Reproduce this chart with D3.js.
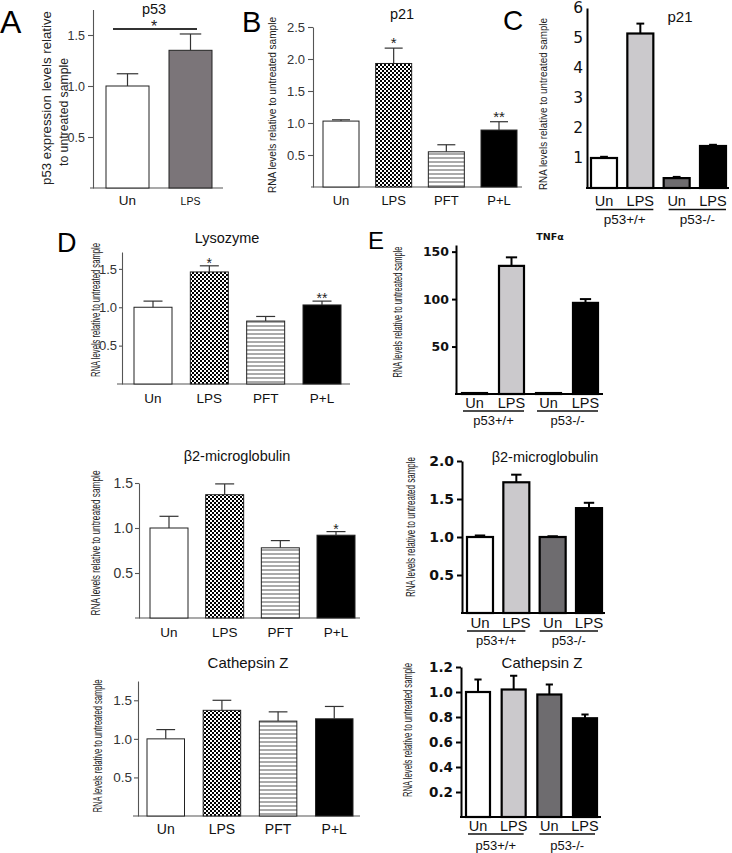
<!DOCTYPE html>
<html><head><meta charset="utf-8">
<script src="https://cdn.jsdelivr.net/npm/d3@7"></script>
<style>body{margin:0;background:#fff} svg{display:block}</style>
</head><body><svg id="c" width="732" height="853"></svg>
<script>
// ---------------- DATA ----------------
const treatCats = ["Un", "LPS", "PFT", "P+L"];
const p53Cats = ["Un", "LPS"];
const genoCats = ["Un", "LPS", "Un", "LPS"];
const genotypes = ["p53+/+", "p53-/-"];

const p53Values = [1.00, 1.35];
const p53Errors = [0.12, 0.16];
const p21TreatValues = [1.03, 1.93, 0.55, 0.89];
const p21TreatErrors = [0.02, 0.24, 0.11, 0.13];
const p21TreatSig = ["", "*", "", "**"];
const p21GenoValues = [1.00, 5.15, 0.33, 1.40];
const p21GenoErrors = [0.04, 0.33, 0.04, 0.04];
const lysoValues = [1.00, 1.46, 0.82, 1.03];
const lysoErrors = [0.08, 0.08, 0.06, 0.05];
const lysoSig = ["", "*", "", "**"];
const tnfValues = [1, 135, 1, 96];
const tnfErrors = [0, 9, 0, 4];
const b2TreatValues = [1.00, 1.37, 0.78, 0.92];
const b2TreatErrors = [0.13, 0.12, 0.08, 0.04];
const b2TreatSig = ["", "", "", "*"];
const b2GenoValues = [1.00, 1.72, 1.00, 1.38];
const b2GenoErrors = [0.02, 0.10, 0.01, 0.07];
const ctszTreatValues = [1.00, 1.37, 1.23, 1.26];
const ctszTreatErrors = [0.12, 0.13, 0.12, 0.16];
const ctszGenoValues = [1.00, 1.02, 0.98, 0.79];
const ctszGenoErrors = [0.10, 0.11, 0.08, 0.03];

const ticksA = [0.5, 1.0, 1.5];
const ticksB = [0.5, 1.0, 1.5, 2.0, 2.5];
const ticksC = [1, 2, 3, 4, 5, 6];
const ticksTNF = [50, 100, 150];
const ticksB2Geno = [0.5, 1.0, 1.5, 2.0];
const ticksCtszGeno = [0.2, 0.4, 0.6, 0.8, 1.0, 1.2];

const yLabelRNA = "RNA levels relative to untreated sample";

// ---------------- STYLE ----------------
const SANS = "'Liberation Sans', Arial, Helvetica, sans-serif";
const WIDE = "'DejaVu Sans', Verdana, sans-serif";
const treatFills = ["#ffffff", "url(#checker)", "url(#hlines)", "#000000"];
const p53Fills = ["#ffffff", "#7b7579"];
const genoFills = ["#ffffff", "#cbc9cc", "#6e6c6f", "#000000"];

const svg = d3.select("#c");
const defs = svg.append("defs");
const chk = defs.append("pattern").attr("id", "checker").attr("patternUnits", "userSpaceOnUse")
  .attr("width", 4).attr("height", 4);
chk.append("rect").attr("width", 4).attr("height", 4).attr("fill", "#fff");
chk.append("rect").attr("width", 2).attr("height", 2).attr("fill", "#000");
chk.append("rect").attr("x", 2).attr("y", 2).attr("width", 2).attr("height", 2).attr("fill", "#000");
const hl = defs.append("pattern").attr("id", "hlines").attr("patternUnits", "userSpaceOnUse")
  .attr("width", 4).attr("height", 4);
hl.append("rect").attr("width", 4).attr("height", 4).attr("fill", "#fff");
hl.append("rect").attr("y", 1.5).attr("width", 4).attr("height", 1).attr("fill", "#555");

function panel(c) {
  const g = svg.append("g");
  const n = c.values.length;
  const step = (c.barR - c.barL - c.barW) / (n - 1);
  const x = d3.scaleBand().domain(d3.range(n)).range([c.barL, c.barR])
    .paddingInner(1 - c.barW / step).paddingOuter(0);
  const y = d3.scaleLinear().domain([0, c.yMax]).range([c.y0, c.yTop]);

  // y axis
  const ax = g.append("g").attr("transform", `translate(${c.axisX},0)`)
    .call(d3.axisLeft(y).tickValues(c.ticks).tickFormat(d3.format(c.fmt))
      .tickSize(c.tickLen).tickSizeOuter(0).tickPadding(c.tickPad == null ? 3 : c.tickPad));
  ax.select(".domain").attr("stroke", c.axisColor).attr("stroke-width", c.axisW);
  ax.selectAll(".tick line").attr("stroke", c.axisColor).attr("stroke-width", c.axisW);
  ax.selectAll(".tick text").attr("font-family", c.tickFont).attr("font-size", c.tickSize)
    .attr("font-weight", c.tickWeight || "normal").attr("fill", c.tickColor);

  // x baseline
  g.append("line").attr("x1", c.xAxisL).attr("x2", c.xAxisR).attr("y1", c.y0).attr("y2", c.y0)
    .attr("stroke", c.axisColor).attr("stroke-width", c.axisW);

  // bars
  g.selectAll("rect.bar").data(c.values).join("rect").attr("class", "bar")
    .attr("x", (d, i) => x(i)).attr("width", x.bandwidth())
    .attr("y", d => y(d)).attr("height", d => c.y0 - y(d))
    .attr("fill", (d, i) => c.fills[i]).attr("stroke", c.barStroke).attr("stroke-width", c.barSW);

  // error bars
  const cap = x.bandwidth() * c.capFrac;
  c.values.forEach((v, i) => {
    const e = c.errors[i];
    if (!e) return;
    const cx = x(i) + x.bandwidth() / 2;
    g.append("line").attr("x1", cx).attr("x2", cx).attr("y1", y(v)).attr("y2", y(v + e))
      .attr("stroke", c.errColor).attr("stroke-width", c.errW);
    g.append("line").attr("x1", cx - cap / 2).attr("x2", cx + cap / 2).attr("y1", y(v + e)).attr("y2", y(v + e))
      .attr("stroke", c.errColor).attr("stroke-width", c.errW);
    if (c.sig && c.sig[i]) {
      g.append("text").attr("x", cx).attr("y", y(v + e) + c.sigOff).attr("text-anchor", "middle")
        .attr("font-family", SANS).attr("font-size", c.sigSize).attr("fill", "#222").text(c.sig[i]);
    }
  });

  // category labels
  c.cats.forEach((t, i) => {
    g.append("text").attr("x", x(i) + x.bandwidth() / 2).attr("y", c.labY).attr("text-anchor", "middle")
      .attr("font-family", SANS).attr("font-size", c.labSizes ? c.labSizes[i] : c.labSize)
      .attr("fill", "#111").text(t);
  });

  // genotype groups
  if (c.groups) {
    c.groups.forEach((t, gi) => {
      const l = x(gi * 2) + c.ulInsetL, r = x(gi * 2 + 1) + x.bandwidth() - c.ulInsetR;
      g.append("line").attr("x1", l).attr("x2", r).attr("y1", c.ulY).attr("y2", c.ulY)
        .attr("stroke", "#111").attr("stroke-width", 1.3);
      g.append("text").attr("x", (l + r) / 2).attr("y", c.grpY).attr("text-anchor", "middle")
        .attr("font-family", SANS).attr("font-size", c.grpSize).attr("fill", "#111").text(t);
    });
  }

  // title
  g.append("text").attr("x", c.titleX).attr("y", c.titleY).attr("text-anchor", "middle")
    .attr("font-family", c.titleFont || SANS).attr("font-size", c.titleSize)
    .attr("font-weight", c.titleWeight || "normal").attr("fill", "#111").text(c.title);

  // y label(s)
  c.yLabels.forEach(L => {
    const t = g.append("text").attr("transform", `translate(${L.x},${L.y}) rotate(-90)`)
      .attr("text-anchor", "middle").attr("dominant-baseline", "central")
      .attr("font-family", SANS).attr("font-size", L.size).attr("fill", "#222").text(L.text);
    if (L.len) t.attr("textLength", L.len).attr("lengthAdjust", "spacingAndGlyphs");
  });

  // panel letter
  if (c.letter) {
    g.append("text").attr("x", c.letter.x).attr("y", c.letter.y).attr("font-family", SANS)
      .attr("font-size", c.letter.size).attr("fill", "#000").text(c.letter.t);
  }
  return {g, x, y};
}

const leftStyle = {axisColor: "#555", axisW: 1.1, tickLen: 5, tickFont: SANS, tickColor: "#333",
  barStroke: "#222", barSW: 1, errColor: "#333", errW: 1.2, capFrac: 0.5, fmt: ".1f"};
const rightStyle = {axisColor: "#000", axisW: 2, tickLen: 5, tickFont: WIDE, tickColor: "#111", tickWeight: "bold",
  barStroke: "#000", barSW: 2.2, errColor: "#000", errW: 2, capFrac: 0.4, fmt: ".1f"};

// A: p53
const A = panel(Object.assign({}, leftStyle, {
  values: p53Values, errors: p53Errors, cats: p53Cats, fills: p53Fills,
  barL: 106, barR: 212, barW: 43, axisX: 93, xAxisL: 90, xAxisR: 223,
  y0: 188, yTop: 9.5, yMax: 1.75, ticks: ticksA, tickSize: 12.5,
  labY: 205, labSizes: [13.5, 10.5], title: "p53", titleX: 154, titleY: 14, titleSize: 14.5,
  yLabels: [{x: 46, y: 98, size: 13, text: "p53 expression levels relative", len: 174},
            {x: 63, y: 112, size: 13, text: "to untreated sample", len: 108}],
  letter: {t: "A", x: 0, y: 33, size: 32}
}));
A.g.append("line").attr("x1", 113).attr("x2", 197).attr("y1", 29).attr("y2", 29)
  .attr("stroke", "#333").attr("stroke-width", 2);
A.g.append("text").attr("x", 154).attr("y", 32).attr("text-anchor", "middle")
  .attr("font-family", SANS).attr("font-size", 16).attr("fill", "#222").text("*");

// B: p21 treatments
panel(Object.assign({}, leftStyle, {
  values: p21TreatValues, errors: p21TreatErrors, cats: treatCats, fills: treatFills,
  sig: p21TreatSig, sigOff: 0, sigSize: 15,
  barL: 323, barR: 517, barW: 36, axisX: 313, xAxisL: 311, xAxisR: 522,
  y0: 187, yTop: 27, yMax: 2.5, ticks: ticksB, tickSize: 13,
  labY: 205, labSize: 13, title: "p21", titleX: 402, titleY: 19, titleSize: 14.5,
  yLabels: [{x: 272, y: 105, size: 10.8, text: yLabelRNA, len: 176}],
  letter: {t: "B", x: 242, y: 32, size: 29}
}));

// C: p21 genotypes
panel(Object.assign({}, rightStyle, {
  values: p21GenoValues, errors: p21GenoErrors, cats: genoCats, fills: genoFills,
  barL: 591, barR: 726, barW: 26, axisX: 587, xAxisL: 586, xAxisR: 729,
  y0: 188, yTop: 8, yMax: 6, ticks: ticksC, fmt: "d", tickSize: 15.5, tickWeight: "normal", tickLen: 0, tickPad: 4,
  capFrac: 0.3,
  labY: 206, labSize: 14.5, groups: genotypes, ulY: 209.5, ulInsetL: 5, ulInsetR: 0, grpY: 224, grpSize: 13.5,
  title: "p21", titleX: 680, titleY: 22, titleSize: 15,
  yLabels: [{x: 543, y: 104, size: 10.4, text: yLabelRNA, len: 172}],
  letter: {t: "C", x: 503, y: 30, size: 28}
}));

// D: Lysozyme
panel(Object.assign({}, leftStyle, {
  values: lysoValues, errors: lysoErrors, cats: treatCats, fills: treatFills,
  sig: lysoSig, sigOff: 2, sigSize: 14,
  barL: 134, barR: 341, barW: 38, axisX: 122, xAxisL: 117, xAxisR: 350,
  y0: 384, yTop: 252, yMax: 1.72, ticks: ticksA, tickSize: 13, tickLen: 3, tickPad: 2,
  labY: 403, labSize: 13.5, title: "Lysozyme", titleX: 227, titleY: 243, titleSize: 14.5,
  yLabels: [{x: 96, y: 310, size: 12.5, text: yLabelRNA, len: 134}],
  letter: {t: "D", x: 57, y: 252, size: 27}
}));

// E: TNFα
panel(Object.assign({}, rightStyle, {
  values: tnfValues, errors: tnfErrors, cats: genoCats, fills: genoFills,
  barL: 462, barR: 598, barW: 25, axisX: 456, xAxisL: 455, xAxisR: 603,
  y0: 394, yTop: 245, yMax: 157, ticks: ticksTNF, fmt: "d", tickSize: 12.5, tickLen: 4,
  capFrac: 0.45,
  labY: 408, labSize: 14.5, groups: genotypes, ulY: 411, ulInsetL: 1, ulInsetR: 0, grpY: 425, grpSize: 13,
  title: "TNFα", titleX: 550, titleY: 240, titleSize: 9.5, titleFont: WIDE, titleWeight: "bold",
  yLabels: [{x: 398, y: 312, size: 12.5, text: yLabelRNA, len: 131}],
  letter: {t: "E", x: 368, y: 249, size: 24}
}));

// β2-microglobulin treatments
panel(Object.assign({}, leftStyle, {
  values: b2TreatValues, errors: b2TreatErrors, cats: treatCats, fills: treatFills,
  sig: b2TreatSig, sigOff: 2, sigSize: 14,
  barL: 150, barR: 355, barW: 38, axisX: 139, xAxisL: 135, xAxisR: 360,
  y0: 618, yTop: 483, yMax: 1.5, ticks: ticksA, tickSize: 14, tickLen: 4, tickPad: 2,
  labY: 637, labSize: 13.5, title: "β2-microglobulin", titleX: 237, titleY: 461, titleSize: 14.5,
  yLabels: [{x: 96, y: 543, size: 12.5, text: yLabelRNA, len: 145}]
}));

// β2-microglobulin genotypes
panel(Object.assign({}, rightStyle, {
  values: b2GenoValues, errors: b2GenoErrors, cats: genoCats, fills: genoFills,
  barL: 467, barR: 602, barW: 26, axisX: 462, xAxisL: 461, xAxisR: 605,
  y0: 613, yTop: 461, yMax: 2.0, ticks: ticksB2Geno, tickSize: 14, tickLen: 5,
  capFrac: 0.4,
  labY: 628, labSize: 15, groups: genotypes, ulY: 631, ulInsetL: 0, ulInsetR: 4, grpY: 645, grpSize: 13,
  title: "β2-microglobulin", titleX: 545, titleY: 462, titleSize: 14.5,
  yLabels: [{x: 411, y: 527, size: 12.5, text: yLabelRNA, len: 140}]
}));

// Cathepsin Z treatments
panel(Object.assign({}, leftStyle, {
  values: ctszTreatValues, errors: ctszTreatErrors, cats: treatCats, fills: treatFills,
  barL: 147, barR: 353, barW: 37.5, axisX: 138, xAxisL: 133, xAxisR: 360,
  y0: 816, yTop: 681, yMax: 1.75, ticks: ticksA, tickSize: 13.5, tickLen: 4, tickPad: 2,
  labY: 834, labSize: 14, title: "Cathepsin Z", titleX: 248, titleY: 668, titleSize: 15,
  yLabels: [{x: 98, y: 746, size: 12.5, text: yLabelRNA, len: 133}]
}));

// Cathepsin Z genotypes
panel(Object.assign({}, rightStyle, {
  values: ctszGenoValues, errors: ctszGenoErrors, cats: genoCats, fills: genoFills,
  barL: 466, barR: 597, barW: 24, axisX: 461, xAxisL: 460, xAxisR: 601,
  y0: 817, yTop: 667, yMax: 1.2, ticks: ticksCtszGeno, tickSize: 13.5, tickLen: 5,
  capFrac: 0.3,
  labY: 831, labSize: 14.5, groups: genotypes, ulY: 834, ulInsetL: 2, ulInsetR: 2, grpY: 850, grpSize: 13,
  title: "Cathepsin Z", titleX: 542, titleY: 668, titleSize: 15,
  yLabels: [{x: 408, y: 730, size: 12.5, text: yLabelRNA, len: 134}]
}));
</script>
</body></html>
